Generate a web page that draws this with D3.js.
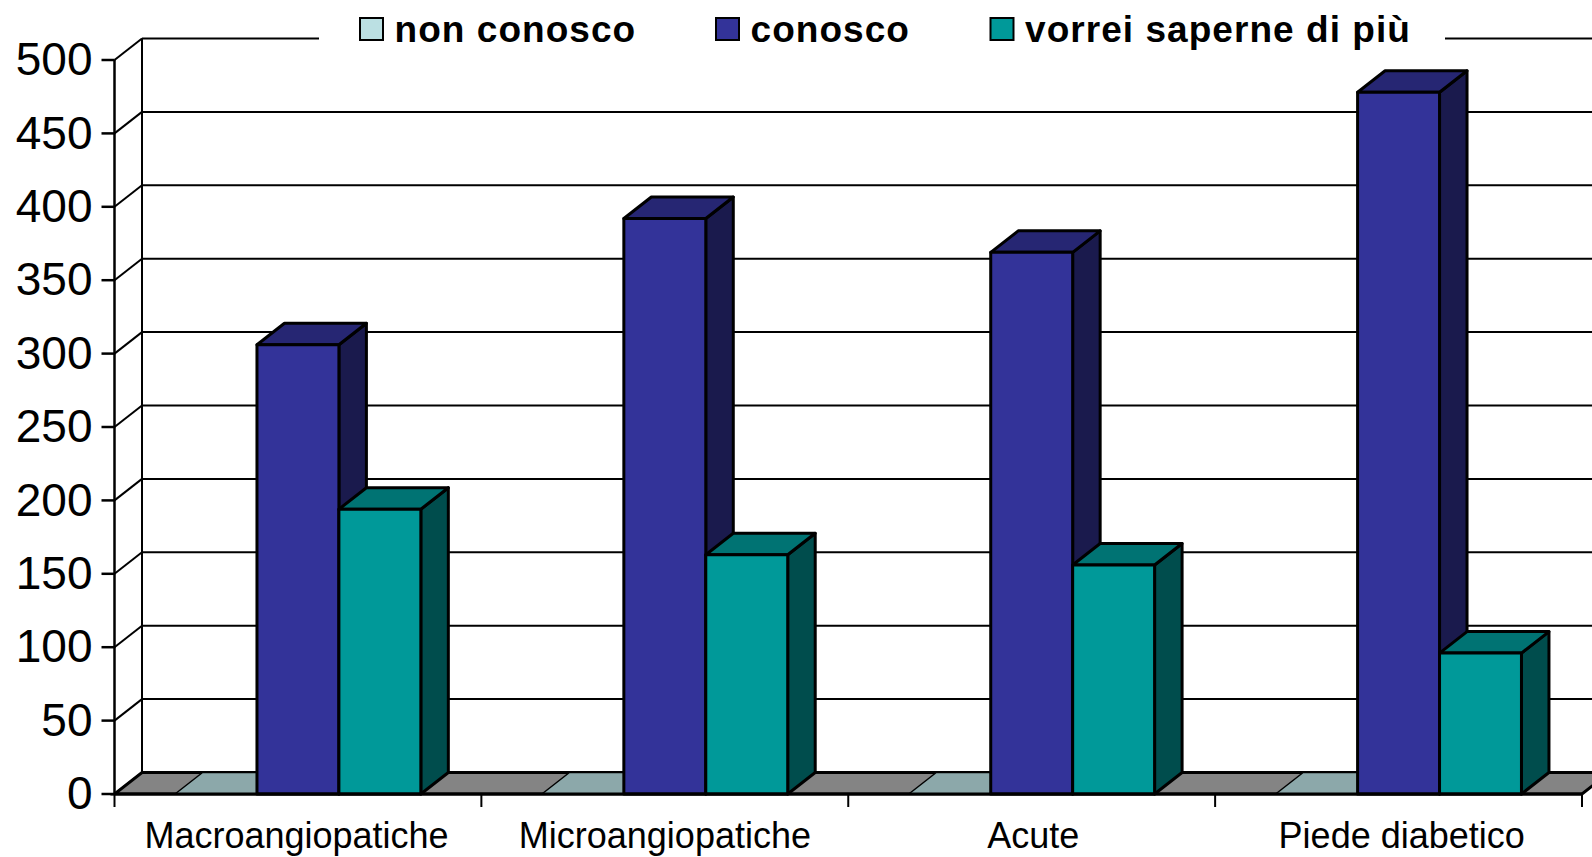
<!DOCTYPE html>
<html>
<head>
<meta charset="utf-8">
<title>conoscenza complicanze</title>
<script src="https://d3js.org/d3.v7.min.js"></script>
<style>
    body { margin: 0; background: #fff; }
    svg { display: block; }
    text { font-family: "Liberation Sans", Arial, sans-serif; fill: #000; }
</style>
</head>
<body>
<svg id="chart" width="1592" height="857"></svg>
<script>
// data
const categories = ["Macroangiopatiche", "Microangiopatiche", "Acute", "Piede diabetico"];
const seriesNames = ["non conosco", "conosco", "vorrei saperne di più"];
const nonConosco = [0, 0, 0, 0];
const conosco = [306, 392, 369, 478];
const vorrei = [194, 163, 156, 96];
const yTicks = [0, 50, 100, 150, 200, 250, 300, 350, 400, 450, 500];

const seriesValues = [nonConosco, conosco, vorrei];
const front = ["#bbe0e3", "#333399", "#009999"];
const topFace = ["#8ca8aa", "#262673", "#007373"];
const sideFace = ["#5e7072", "#1a1a4d", "#004d4d"];

// layout
const left = 114.5, right = 1582, y0 = 794, y500 = 60;
const dx = 27.5, dy = -21.5; // depth of the 3d box

const svg = d3.select("#chart");

const x = d3.scaleBand().domain(categories).range([left, right]).paddingInner(0.33).paddingOuter(0.165);
const xs = d3.scaleBand().domain(d3.range(3)).range([0, x.bandwidth()]);
const y = d3.scaleLinear().domain([0, 500]).range([y0, y500]);

const poly = pts => pts.map(p => p.join(",")).join(" ");

// back wall gridlines + the diagonals on the side wall
const grid = svg.append("g").attr("stroke", "#000").attr("stroke-width", 2).attr("fill", "none");
grid.selectAll("line.h").data(yTicks).join("line")
    .attr("class", "h")
    .attr("x1", left + dx).attr("x2", right + dx)
    .attr("y1", d => y(d) + dy).attr("y2", d => y(d) + dy);
grid.selectAll("line.d").data(yTicks).join("line")
    .attr("class", "d")
    .attr("x1", left).attr("x2", left + dx)
    .attr("y1", d => y(d)).attr("y2", d => y(d) + dy);
grid.append("line")
    .attr("x1", left + dx).attr("x2", left + dx)
    .attr("y1", y(0) + dy).attr("y2", y(500) + dy);

// floor
svg.append("polygon")
    .attr("points", poly([[left, y0], [right, y0], [right + dx, y0 + dy], [left + dx, y0 + dy]]))
    .attr("fill", "#848484")
    .attr("stroke", "#000").attr("stroke-width", 3);

// bars, series by series so the teal ones sit over the blue sides
seriesValues.forEach((vals, s) => {
    const g = svg.append("g").selectAll("g")
        .data(categories.map((c, i) => ({ c, v: vals[i] })))
        .join("g")
        .attr("stroke", "#000")
        .attr("stroke-width", s == 0 ? 1.5 : 3)
        .attr("stroke-linejoin", "round");

    const bx = d => x(d.c) + xs(s);
    const w = xs.bandwidth();

    if (s != 0) {
        g.append("polygon").attr("fill", sideFace[s])
            .attr("points", d => poly([[bx(d) + w, y(d.v)], [bx(d) + w + dx, y(d.v) + dy], [bx(d) + w + dx, y0 + dy], [bx(d) + w, y0]]));
    }
    g.append("polygon").attr("fill", topFace[s])
        .attr("points", d => poly([[bx(d), y(d.v)], [bx(d) + dx, y(d.v) + dy], [bx(d) + w + dx, y(d.v) + dy], [bx(d) + w, y(d.v)]]));
    if (s != 0) {
        g.append("rect").attr("fill", front[s])
            .attr("x", bx).attr("width", w)
            .attr("y", d => y(d.v)).attr("height", d => y0 - y(d.v));
    }
});

// front line of the floor goes over the flat series
svg.append("line")
    .attr("x1", left).attr("x2", right).attr("y1", y0).attr("y2", y0)
    .attr("stroke", "#000").attr("stroke-width", 3);

// y axis
const yAxis = svg.append("g")
    .attr("transform", `translate(${left},0)`)
    .call(d3.axisLeft(y).tickValues(yTicks).tickSize(13).tickSizeOuter(0).tickPadding(9).offset(0));
yAxis.select(".domain").attr("stroke", "#000").attr("stroke-width", 2.5);
yAxis.selectAll(".tick line").attr("stroke", "#000").attr("stroke-width", 2.5);
yAxis.selectAll(".tick text").attr("font-size", 46).attr("font-family", null).attr("dy", ".33em");

// x axis ticks sit between the categories, labels have their own slightly wider spacing
const xEdge = d3.scaleLinear().domain([0, categories.length]).range([left, right]);
const labelX = d3.scaleLinear().domain([0, categories.length]).range([112.3, 1585.9]);
svg.append("g").selectAll("line")
    .data(d3.range(categories.length + 1)).join("line")
    .attr("x1", d => xEdge(d)).attr("x2", d => xEdge(d))
    .attr("y1", y0).attr("y2", y0 + 13)
    .attr("stroke", "#000").attr("stroke-width", 2);
svg.append("g").selectAll("text")
    .data(categories).join("text")
    .attr("x", (d, i) => labelX(i + 0.5))
    .attr("y", 848)
    .attr("text-anchor", "middle")
    .attr("font-size", 36)
    .text(d => d);

// legend, white box breaks the top gridline
svg.append("rect").attr("x", 319).attr("y", 0).attr("width", 1126).attr("height", 50).attr("fill", "#fff");
const legendX = [360, 716, 990.5];
const legend = svg.append("g").selectAll("g").data(seriesNames).join("g")
    .attr("transform", (d, i) => `translate(${legendX[i]},0)`);
legend.append("rect")
    .attr("x", 0).attr("y", 18).attr("width", 23).attr("height", 22)
    .attr("fill", (d, i) => front[i])
    .attr("stroke", "#000").attr("stroke-width", 2);
legend.append("text")
    .attr("x", 34.5).attr("y", 42)
    .attr("font-size", 37).attr("font-weight", "bold")
    .attr("letter-spacing", 1.05)
    .text(d => d);
</script>
</body>
</html>
